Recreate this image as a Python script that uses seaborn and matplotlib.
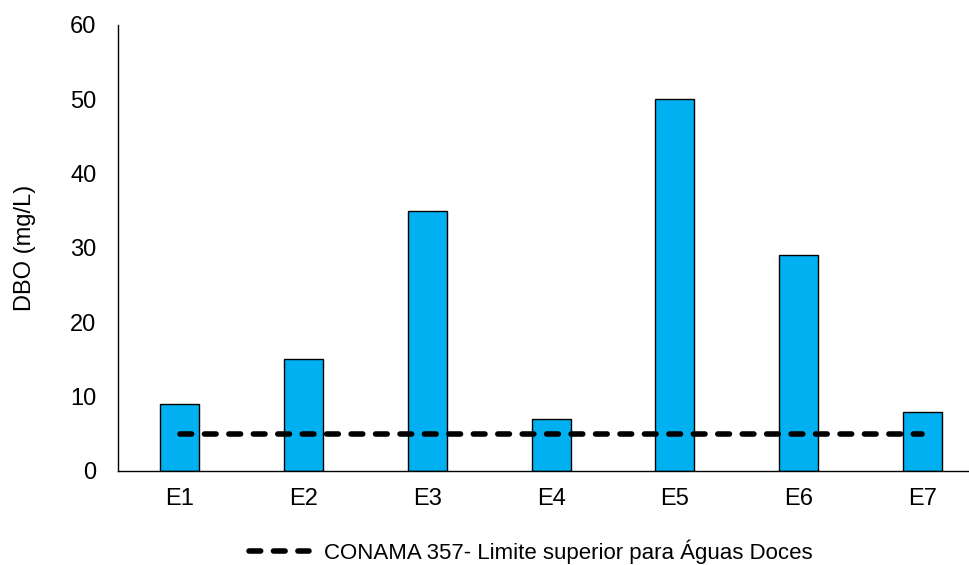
import matplotlib
matplotlib.use("Agg")
import matplotlib.pyplot as plt
import seaborn as sns
import pandas as pd
from matplotlib.lines import Line2D

stations = ["E1", "E2", "E3", "E4", "E5", "E6", "E7"]
dbo = [9, 15, 35, 7, 50, 29, 8]
limit_value = 5
limit_label = "CONAMA 357- Limite superior para Águas Doces"
y_ticks = [0, 10, 20, 30, 40, 50, 60]

df = pd.DataFrame({"Estação": stations, "DBO": dbo})

sns.set_theme(style="white")
plt.rcParams["font.family"] = ["Liberation Sans", "DejaVu Sans"]
plt.rcParams["text.color"] = "black"
plt.rcParams["axes.labelcolor"] = "black"
plt.rcParams["xtick.color"] = "black"
plt.rcParams["ytick.color"] = "black"

fig = plt.figure(figsize=(9.69, 5.65), dpi=100)
ax = fig.add_axes([0.1218, 0.1664, 0.894, 0.7894])

sns.barplot(data=df, x="Estação", y="DBO", color="#00B0F0", saturation=1,
            width=0.315, edgecolor="black", linewidth=1.0, ax=ax)

# Reference limit drawn across the stations
dash = (0, (2.1, 2.3))
limit_df = pd.DataFrame({"Estação": stations, "lim": [limit_value] * len(stations)})
sns.lineplot(data=limit_df, x="Estação", y="lim", color="black", linewidth=4.0,
             linestyle=dash, sort=False, ax=ax, legend=False)
for ln in ax.lines:
    ln.set_dash_capstyle("round")

ax.set_xlim(-0.5, 6.5)
ax.set_ylim(0, 60)
ax.set_yticks(y_ticks)
ax.set_ylabel("DBO (mg/L)", fontsize=17)
ax.yaxis.set_label_coords(-0.095, 0.5)
ax.set_xlabel("")
ax.tick_params(axis="y", labelsize=17, length=0, pad=15.5)
ax.tick_params(axis="x", labelsize=17, length=0, pad=12)
for s in ["top", "right"]:
    ax.spines[s].set_visible(False)
for s in ["left", "bottom"]:
    ax.spines[s].set_color("black")
    ax.spines[s].set_linewidth(1.0)

handle = Line2D([0], [0], color="black", linewidth=4.0, linestyle=dash,
                dash_capstyle="round")
fig.legend([handle], [limit_label], loc="center", bbox_to_anchor=(0.548, 0.023),
           frameon=False, fontsize=16, handlelength=2.7, handletextpad=0.65)

fig.savefig("out.png", dpi=100, facecolor="white")
